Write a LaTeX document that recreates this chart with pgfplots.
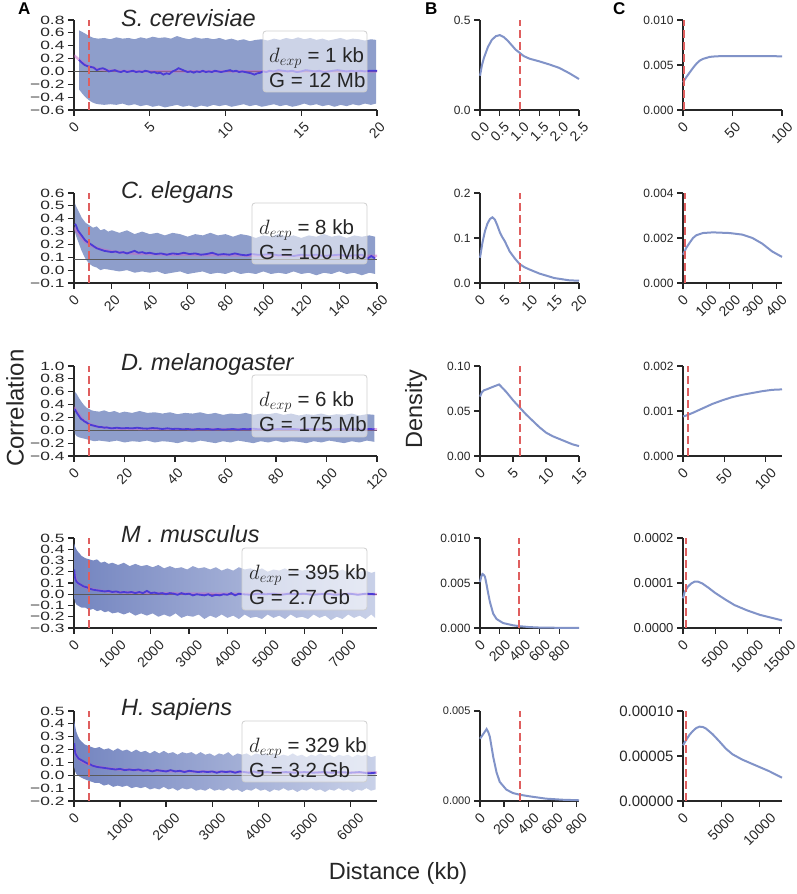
\documentclass[border=0pt]{standalone}
\usepackage{pgfplots}
\pgfplotsset{compat=1.18}
\usepackage{fontspec}
\setmainfont{Liberation Sans}
\definecolor{spine}{HTML}{262626}
\definecolor{band}{HTML}{8E9ECB}
\definecolor{bandL}{HTML}{7485C0}
\definecolor{bandM}{HTML}{8F9ECB}
\definecolor{bandR}{HTML}{C9D1E8}
\definecolor{meanc}{HTML}{4B3BD6}
\definecolor{fitc}{HTML}{C864C8}
\definecolor{redd}{HTML}{DF5F5F}
\definecolor{dens}{HTML}{8193C8}
\definecolor{hline}{HTML}{5A5A5A}
\definecolor{legb}{HTML}{CFCFCF}
\newcommand{\tk}{\fontsize{12}{12}\selectfont}
\newcommand{\tx}{\fontsize{14}{14}\selectfont}
\newcommand{\R}[1]{\rotatebox{45}{#1}}
\newcommand{\W}[1]{\scalebox{1.45}[1]{#1}}
\pgfplotsset{
 base/.style={scale only axis, anchor=south west, axis x line*=bottom, axis y line*=left,
   axis line style={-, line width=1.5pt, spine},
   tick align=outside, major tick length=6pt,
   every tick/.style={line width=1.2pt, spine},
   scaled x ticks=false, scaled y ticks=false,
   tick label style={text=spine},
   yticklabel style={font=\tk},
   xticklabel style={font=\tx, yshift=-2pt},
   height=90pt},
 colA/.style={base, width=303pt},
 colB/.style={base, width=99pt, clip=false},
 colC/.style={base, width=99pt, clip=false},
 rdash/.style={redd, line width=2pt, dash pattern=on 8pt off 4pt},
 dline/.style={dens, line width=2pt},
 hl/.style={hline, line width=1pt},
 fitl/.style={fitc, opacity=0.5, line width=2.5pt},
 meanl/.style={meanc, line width=1.8pt},
}
\tikzset{legbox/.style={draw=legb, line width=0.8pt, fill=white, fill opacity=0.55, rounded corners=3pt},
 legt/.style={anchor=base west, font=\fontsize{20.5}{22}\selectfont, text=spine, inner sep=0pt},
 ttl/.style={anchor=base west, font=\fontsize{23.5}{24}\selectfont\itshape, text=spine, inner sep=0pt}}
\begin{document}
\begin{tikzpicture}
\path[use as bounding box] (0pt,0pt) rectangle (797pt,894pt);
%%%%%%%%%%%%%%%% ROW 1
\begin{axis}[colA, at={(74pt,784pt)}, xmin=0, xmax=20, ymin=-0.6, ymax=0.8,
 xtick={0,5,10,15,20}, xticklabels={\R{0},\R{5},\R{10},\R{15},\R{20}},
 ytick={-0.6,-0.4,-0.2,0,0.2,0.4,0.6,0.8}, yticklabels={\W{−0.6},\W{−0.4},\W{−0.2},\W{0.0},\W{0.2},\W{0.4},\W{0.6},\W{0.8}}]
\addplot[draw=none, fill=band] coordinates {(0.33,0.64)(0.5,0.62)(0.8,0.58)(1.0,0.55)(1.3,0.52)(1.6,0.51)(2.0,0.52)(2.4,0.50)(2.8,0.53)(3.2,0.51)(3.6,0.52)(4.0,0.50)(4.4,0.53)(4.8,0.51)(5.2,0.54)(5.6,0.52)(6.0,0.53)(6.4,0.51)(6.8,0.55)(7.2,0.52)(7.6,0.50)(8.0,0.53)(8.4,0.51)(8.8,0.52)(9.2,0.50)(9.6,0.52)(10.0,0.49)(10.4,0.51)(10.8,0.48)(11.2,0.50)(11.6,0.47)(12.0,0.49)(12.4,0.50)(12.8,0.48)(13.2,0.51)(13.6,0.49)(14.0,0.52)(14.4,0.50)(14.8,0.53)(15.2,0.50)(15.6,0.52)(16.0,0.49)(16.4,0.51)(16.8,0.48)(17.2,0.50)(17.6,0.52)(18.0,0.49)(18.4,0.51)(18.8,0.50)(19.2,0.48)(19.6,0.50)(19.95,0.49)
 (19.95,-0.50)(19.6,-0.52)(19.2,-0.50)(18.8,-0.53)(18.4,-0.51)(18.0,-0.54)(17.6,-0.52)(17.2,-0.55)(16.8,-0.52)(16.4,-0.54)(16.0,-0.51)(15.6,-0.53)(15.2,-0.50)(14.8,-0.53)(14.4,-0.55)(14.0,-0.52)(13.6,-0.54)(13.2,-0.51)(12.8,-0.53)(12.4,-0.55)(12.0,-0.52)(11.6,-0.54)(11.2,-0.51)(10.8,-0.53)(10.4,-0.55)(10.0,-0.52)(9.6,-0.54)(9.2,-0.52)(8.8,-0.55)(8.4,-0.53)(8.0,-0.56)(7.6,-0.53)(7.2,-0.55)(6.8,-0.52)(6.4,-0.54)(6.0,-0.56)(5.6,-0.53)(5.2,-0.55)(4.8,-0.52)(4.4,-0.54)(4.0,-0.51)(3.6,-0.53)(3.2,-0.50)(2.8,-0.52)(2.4,-0.51)(2.0,-0.52)(1.6,-0.51)(1.4,-0.50)(1.2,-0.48)(1.0,-0.45)(0.8,-0.41)(0.6,-0.36)(0.33,-0.28)} -- cycle;
\addplot[hl] coordinates {(0,0)(20,0)};
\addplot[fitl] coordinates {(0,0.25)(0.25,0.2)(0.5,0.15)(0.75,0.11)(1,0.08)(1.5,0.04)(2,0.02)(3,0.005)(5,0)(20,0)};
\addplot[meanl] coordinates {(0.33,0.18)(0.5,0.14)(0.7,0.10)(0.9,0.08)(1.1,0.07)(1.3,0.06)(1.5,0.02)(1.7,0.04)(1.9,0.05)(2.1,0.03)(2.3,0.00)(2.5,0.01)(2.7,0.02)(2.9,0.00)(3.1,-0.01)(3.3,0.01)(3.5,-0.01)(3.7,0.00)(3.9,0.01)(4.1,-0.01)(4.3,0.00)(4.5,-0.01)(4.7,0.01)(4.9,0.00)(5.1,-0.02)(5.3,-0.01)(5.5,-0.03)(5.7,-0.02)(5.9,-0.05)(6.1,-0.03)(6.3,-0.04)(6.5,0.00)(6.7,0.02)(6.9,0.05)(7.1,0.03)(7.3,0.01)(7.5,-0.01)(7.7,0.00)(7.9,-0.02)(8.1,0.00)(8.3,-0.01)(8.5,0.01)(8.7,-0.01)(8.9,0.00)(9.1,-0.01)(9.3,0.01)(9.5,0.00)(9.7,-0.01)(9.9,0.00)(10.1,0.01)(10.3,0.02)(10.5,0.00)(10.7,0.01)(10.9,-0.01)(11.1,0.00)(11.3,-0.01)(11.5,-0.02)(11.7,-0.03)(11.9,-0.05)(12.1,-0.03)(12.3,-0.02)(12.5,0.00)(12.7,-0.01)(12.9,0.01)(13.2,0.00)(13.5,0.02)(13.8,0.01)(14.1,0.00)(14.4,0.01)(14.7,-0.01)(15.0,0.00)(15.3,0.02)(15.6,0.01)(15.9,0.00)(16.2,0.01)(16.5,-0.01)(16.8,0.00)(17.1,0.01)(17.4,0.02)(17.7,0.01)(18.0,0.00)(18.3,0.01)(18.6,0.00)(18.9,0.01)(19.2,0.00)(19.5,0.01)(19.8,0.01)(20,0.01)};
\addplot[rdash] coordinates {(1,-0.6)(1,0.8)};
\end{axis}
\begin{axis}[colB, at={(480pt,784pt)}, xmin=0, xmax=2.5, ymin=0, ymax=0.5,
 xtick={0,0.5,1,1.5,2,2.5}, xticklabels={\R{0.0},\R{0.5},\R{1.0},\R{1.5},\R{2.0},\R{2.5}},
 ytick={0,0.5}, yticklabels={0.0,0.5}]
\addplot[dline] coordinates {(0,0.19)(0.05,0.25)(0.1,0.29)(0.2,0.35)(0.3,0.39)(0.4,0.41)(0.5,0.416)(0.6,0.405)(0.7,0.385)(0.8,0.36)(0.9,0.335)(1.0,0.318)(1.1,0.30)(1.25,0.285)(1.5,0.27)(1.75,0.253)(2.0,0.234)(2.25,0.205)(2.5,0.172)};
\addplot[rdash] coordinates {(1,0)(1,0.5)};
\end{axis}
\begin{axis}[colC, at={(683pt,784pt)}, xmin=0, xmax=100, ymin=0, ymax=0.01,
 xtick={0,50,100}, xticklabels={\R{0},\R{50},\R{100}},
 ytick={0,0.005,0.01}, yticklabels={0.000,0.005,0.010}]
\addplot[dline] coordinates {(0,0.00306)(3.4,0.00366)(6.8,0.00418)(10,0.00466)(13.6,0.00515)(17,0.00549)(20,0.00567)(27,0.0059)(34,0.00597)(50,0.00598)(100,0.00597)};
\addplot[rdash] coordinates {(1,0)(1,0.01)};
\end{axis}
%%%%%%%%%%%%%%%% ROW 2
\begin{axis}[colA, at={(74pt,611pt)}, xmin=0, xmax=160, ymin=-0.1, ymax=0.6,
 xtick={0,20,...,160}, xticklabels={\R{0},\R{20},\R{40},\R{60},\R{80},\R{100},\R{120},\R{140},\R{160}},
 ytick={-0.1,0,0.1,0.2,0.3,0.4,0.5,0.6}, yticklabels={\W{−0.1},\W{0.0},\W{0.1},\W{0.2},\W{0.3},\W{0.4},\W{0.5},\W{0.6}}]
\addplot[draw=none, fill=band] coordinates {(0.5,0.52)(1,0.50)(2,0.47)(3,0.44)(4,0.41)(5,0.39)(6,0.37)(7,0.36)(8,0.35)(10,0.33)(12,0.34)(14,0.31)(16,0.32)(18,0.30)(20,0.31)(24,0.29)(28,0.31)(32,0.28)(36,0.30)(40,0.28)(44,0.29)(48,0.27)(52,0.29)(56,0.28)(60,0.26)(64,0.28)(68,0.27)(72,0.29)(76,0.27)(80,0.28)(84,0.26)(88,0.28)(92,0.27)(96,0.25)(100,0.27)(104,0.26)(108,0.28)(112,0.26)(116,0.27)(120,0.25)(124,0.27)(128,0.26)(132,0.28)(136,0.26)(140,0.27)(144,0.25)(148,0.27)(152,0.26)(156,0.27)(159,0.26)
 (159,-0.03)(156,-0.02)(152,-0.04)(148,-0.02)(144,-0.03)(140,-0.01)(136,-0.03)(132,-0.02)(128,-0.04)(124,-0.02)(120,-0.03)(116,-0.01)(112,-0.03)(108,-0.02)(104,-0.03)(100,-0.01)(96,-0.03)(92,-0.02)(88,-0.03)(84,-0.01)(80,-0.03)(76,-0.02)(72,-0.03)(68,-0.01)(64,-0.02)(60,-0.03)(56,-0.01)(52,-0.02)(48,-0.03)(44,-0.01)(40,-0.02)(36,-0.01)(32,-0.02)(28,0.00)(24,-0.01)(20,0.00)(16,0.01)(14,0.00)(12,0.02)(10,0.03)(8,0.05)(7,0.07)(6,0.09)(5,0.12)(4,0.15)(3,0.19)(2,0.23)(1,0.27)(0.5,0.30)} -- cycle;
\addplot[hl] coordinates {(0,0.08)(160,0.08)};
\addplot[fitl] coordinates {(0,0.33)(2,0.29)(4,0.25)(6,0.22)(8,0.2)(10,0.185)(15,0.16)(20,0.145)(30,0.13)(50,0.12)(80,0.115)(120,0.11)(160,0.11)};
\addplot[meanl] coordinates {(0.5,0.36)(1,0.35)(1.5,0.33)(2,0.31)(3,0.29)(4,0.27)(5,0.25)(6,0.23)(7,0.22)(8,0.21)(9,0.20)(10,0.19)(11,0.18)(12,0.17)(13,0.165)(14,0.16)(16,0.15)(18,0.145)(20,0.14)(22,0.145)(24,0.135)(26,0.14)(28,0.13)(30,0.14)(32,0.15)(34,0.135)(36,0.14)(38,0.13)(40,0.135)(43,0.125)(46,0.13)(49,0.12)(52,0.13)(55,0.125)(58,0.135)(61,0.125)(64,0.13)(67,0.12)(70,0.125)(73,0.135)(76,0.12)(79,0.125)(82,0.12)(85,0.13)(88,0.12)(91,0.115)(94,0.125)(97,0.12)(100,0.12)(104,0.125)(108,0.115)(112,0.12)(116,0.11)(120,0.12)(124,0.115)(128,0.12)(132,0.11)(136,0.115)(140,0.12)(144,0.11)(148,0.115)(152,0.12)(155,0.09)(157,0.11)(159,0.09)};
\addplot[rdash] coordinates {(8,-0.1)(8,0.6)};
\end{axis}
\begin{axis}[colB, at={(480pt,611pt)}, xmin=0, xmax=20, ymin=0, ymax=0.2,
 xtick={0,5,10,15,20}, xticklabels={\R{0},\R{5},\R{10},\R{15},\R{20}},
 ytick={0,0.1,0.2}, yticklabels={0.0,0.1,0.2}]
\addplot[dline] coordinates {(0,0.056)(0.5,0.09)(1,0.115)(1.5,0.132)(2,0.142)(2.5,0.146)(3,0.141)(3.5,0.128)(4,0.113)(4.5,0.102)(5,0.093)(6,0.07)(7,0.055)(8,0.042)(9,0.035)(10,0.030)(12,0.021)(15,0.011)(18,0.006)(20,0.005)};
\addplot[rdash] coordinates {(8,0)(8,0.2)};
\end{axis}
\begin{axis}[colC, at={(683pt,611pt)}, xmin=0, xmax=425, ymin=0, ymax=0.004,
 xtick={0,100,200,300,400}, xticklabels={\R{0},\R{100},\R{200},\R{300},\R{400}},
 ytick={0,0.002,0.004}, yticklabels={0.000,0.002,0.004}]
\addplot[dline] coordinates {(0,0.00126)(14,0.00156)(28,0.00178)(43,0.002)(57,0.00212)(85,0.00222)(128,0.00225)(200,0.00222)(255,0.00215)(298,0.002)(340,0.00175)(383,0.0014)(425,0.00116)};
\addplot[rdash] coordinates {(8,0)(8,0.004)};
\end{axis}
%%%%%%%%%%%%%%%% ROW 3
\begin{axis}[colA, at={(74pt,438pt)}, xmin=0, xmax=120, ymin=-0.4, ymax=1.0,
 xtick={0,20,...,120}, xticklabels={\R{0},\R{20},\R{40},\R{60},\R{80},\R{100},\R{120}},
 ytick={-0.4,-0.2,0,0.2,0.4,0.6,0.8,1.0}, yticklabels={\W{−0.4},\W{−0.2},\W{0.0},\W{0.2},\W{0.4},\W{0.6},\W{0.8},\W{1.0}}]
\addplot[draw=none, fill=band] coordinates {(0.3,0.60)(1,0.57)(2,0.50)(3,0.44)(4,0.39)(5,0.35)(6,0.33)(7,0.31)(8,0.30)(10,0.29)(12,0.31)(14,0.28)(16,0.30)(18,0.27)(20,0.29)(23,0.27)(26,0.30)(29,0.27)(32,0.28)(35,0.26)(38,0.28)(41,0.25)(44,0.27)(47,0.26)(50,0.28)(53,0.25)(56,0.27)(59,0.24)(62,0.26)(65,0.25)(68,0.27)(71,0.24)(74,0.26)(77,0.25)(80,0.27)(83,0.24)(86,0.26)(89,0.23)(92,0.25)(95,0.24)(98,0.26)(101,0.23)(104,0.25)(107,0.24)(110,0.26)(113,0.23)(116,0.25)(119,0.24)
 (119,-0.18)(116,-0.16)(113,-0.19)(110,-0.17)(107,-0.20)(104,-0.18)(101,-0.16)(98,-0.19)(95,-0.17)(92,-0.20)(89,-0.18)(86,-0.17)(83,-0.19)(80,-0.16)(77,-0.19)(74,-0.17)(71,-0.20)(68,-0.18)(65,-0.16)(62,-0.19)(59,-0.17)(56,-0.20)(53,-0.18)(50,-0.16)(47,-0.19)(44,-0.17)(41,-0.20)(38,-0.18)(35,-0.17)(32,-0.19)(29,-0.16)(26,-0.18)(23,-0.17)(20,-0.19)(17,-0.16)(14,-0.18)(12,-0.17)(10,-0.16)(8,-0.17)(6,-0.15)(5,-0.14)(4,-0.13)(3,-0.12)(2,-0.11)(1,-0.09)(0.3,-0.05)} -- cycle;
\addplot[hl] coordinates {(0,0)(120,0)};
\addplot[fitl] coordinates {(0,0.36)(1,0.3)(2,0.24)(3,0.19)(4,0.15)(6,0.1)(8,0.07)(10,0.05)(15,0.03)(25,0.02)(50,0.015)(120,0.015)};
\addplot[meanl] coordinates {(0.3,0.33)(0.7,0.30)(1,0.28)(1.5,0.25)(2,0.22)(2.5,0.19)(3,0.17)(3.5,0.16)(4,0.14)(5,0.12)(6,0.09)(7,0.08)(8,0.07)(9,0.06)(10,0.05)(11,0.05)(12,0.04)(13,0.045)(14,0.035)(15,0.03)(17,0.04)(19,0.03)(21,0.035)(23,0.03)(25,0.04)(27,0.03)(29,0.025)(31,0.035)(33,0.03)(35,0.02)(37,0.03)(39,0.02)(41,0.025)(43,0.015)(45,0.02)(47,0.01)(49,0.02)(51,0.015)(53,0.02)(55,0.01)(57,0.02)(59,0.01)(61,0.015)(63,0.02)(65,0.01)(67,0.02)(69,0.015)(71,0.025)(73,0.015)(75,0.02)(78,0.01)(81,0.02)(84,0.015)(87,0.02)(90,0.01)(93,0.02)(96,0.015)(99,0.02)(102,0.01)(105,0.02)(108,0.015)(111,0.02)(114,0.01)(117,0.02)(119,0.015)};
\addplot[rdash] coordinates {(6,-0.4)(6,1.0)};
\end{axis}
\begin{axis}[colB, at={(480pt,438pt)}, xmin=0, xmax=15, ymin=0, ymax=0.1,
 xtick={0,5,10,15}, xticklabels={\R{0},\R{5},\R{10},\R{15}},
 ytick={0,0.05,0.1}, yticklabels={0.00,0.05,0.10}]
\addplot[dline] coordinates {(0,0.066)(0.3,0.071)(0.6,0.073)(1,0.074)(2,0.077)(2.9,0.0795)(4,0.071)(5,0.062)(6,0.054)(7,0.046)(8,0.039)(9,0.032)(10,0.026)(11,0.022)(12,0.019)(13,0.016)(14,0.013)(15,0.011)};
\addplot[rdash] coordinates {(6,0)(6,0.1)};
\end{axis}
\begin{axis}[colC, at={(683pt,438pt)}, xmin=0, xmax=120, ymin=0, ymax=0.002,
 xtick={0,50,100}, xticklabels={\R{0},\R{50},\R{100}},
 ytick={0,0.001,0.002}, yticklabels={0.000,0.001,0.002}]
\addplot[dline] coordinates {(0,0.00088)(4,0.0009)(12,0.00096)(24,0.00106)(36,0.00116)(48,0.00124)(60,0.00131)(72,0.00136)(84,0.0014)(96,0.00144)(108,0.00147)(120,0.00148)};
\addplot[rdash] coordinates {(6,0)(6,0.002)};
\end{axis}
%%%%%%%%%%%%%%%% ROW 4
\begin{axis}[colA, at={(74pt,266pt)}, xmin=0, xmax=7900, ymin=-0.3, ymax=0.5,
 xtick={0,1000,...,7000}, xticklabels={\R{0},\R{1000},\R{2000},\R{3000},\R{4000},\R{5000},\R{6000},\R{7000}},
 ytick={-0.3,-0.2,-0.1,0,0.1,0.2,0.3,0.4,0.5}, yticklabels={\W{−0.3},\W{−0.2},\W{−0.1},\W{0.0},\W{0.1},\W{0.2},\W{0.3},\W{0.4},\W{0.5}}]
\addplot[draw=none, left color=bandL, middle color=bandM, right color=bandR] coordinates {(5,0.45)(30,0.42)(60,0.40)(100,0.38)(150,0.36)(200,0.34)(300,0.32)(400,0.31)(500,0.30)(600,0.31)(700,0.28)(800,0.29)(900,0.27)(1000,0.28)(1150,0.26)(1300,0.28)(1450,0.25)(1600,0.27)(1750,0.25)(1900,0.26)(2050,0.24)(2200,0.26)(2350,0.23)(2500,0.25)(2650,0.23)(2800,0.24)(2950,0.22)(3100,0.25)(3250,0.23)(3400,0.24)(3550,0.22)(3700,0.24)(3850,0.21)(4000,0.23)(4150,0.21)(4300,0.24)(4450,0.22)(4600,0.23)(4750,0.21)(4900,0.23)(5050,0.20)(5200,0.22)(5350,0.21)(5500,0.23)(5650,0.20)(5800,0.22)(5950,0.21)(6100,0.22)(6250,0.20)(6400,0.22)(6550,0.19)(6700,0.21)(6850,0.20)(7000,0.22)(7150,0.19)(7300,0.21)(7450,0.20)(7600,0.21)(7750,0.19)(7850,0.20)
 (7850,-0.21)(7750,-0.18)(7600,-0.22)(7450,-0.19)(7300,-0.21)(7150,-0.18)(7000,-0.22)(6850,-0.20)(6700,-0.23)(6550,-0.19)(6400,-0.21)(6250,-0.18)(6100,-0.22)(5950,-0.20)(5800,-0.21)(5650,-0.18)(5500,-0.22)(5350,-0.19)(5200,-0.21)(5050,-0.18)(4900,-0.22)(4750,-0.20)(4600,-0.21)(4450,-0.18)(4300,-0.22)(4150,-0.19)(4000,-0.21)(3850,-0.18)(3700,-0.21)(3550,-0.19)(3400,-0.22)(3250,-0.18)(3100,-0.20)(2950,-0.19)(2800,-0.21)(2650,-0.17)(2500,-0.20)(2350,-0.18)(2200,-0.20)(2050,-0.17)(1900,-0.19)(1750,-0.17)(1600,-0.19)(1450,-0.16)(1300,-0.18)(1150,-0.16)(1000,-0.17)(900,-0.15)(800,-0.16)(700,-0.14)(600,-0.15)(500,-0.13)(400,-0.14)(300,-0.12)(200,-0.12)(150,-0.11)(100,-0.10)(60,-0.09)(30,-0.07)(5,-0.03)} -- cycle;
\addplot[hl] coordinates {(0,0)(7900,0)};
\addplot[fitl] coordinates {(0,0.2)(50,0.13)(100,0.1)(200,0.075)(400,0.05)(700,0.03)(1000,0.02)(2000,0.01)(3000,0.005)(5000,0.003)(7900,0.002)};
\addplot[meanl] coordinates {(5,0.22)(20,0.16)(40,0.13)(70,0.11)(100,0.10)(150,0.09)(200,0.08)(250,0.07)(300,0.065)(350,0.06)(400,0.05)(450,0.045)(500,0.04)(600,0.035)(700,0.03)(800,0.025)(900,0.03)(1000,0.02)(1100,0.025)(1200,0.015)(1300,0.02)(1400,0.015)(1500,0.02)(1600,0.01)(1700,0.02)(1800,0.01)(1900,0.03)(2000,0.01)(2100,0.015)(2200,0.005)(2300,0.01)(2400,0.0)(2500,0.01)(2600,0.005)(2700,-0.005)(2800,0.01)(2900,0.0)(3000,0.005)(3100,-0.01)(3200,0.0)(3300,-0.005)(3400,-0.01)(3500,0.0)(3600,-0.015)(3700,-0.005)(3800,-0.01)(3900,0.0)(4000,-0.005)(4100,0.01)(4200,-0.01)(4300,0.005)(4400,0.0)(4600,-0.005)(4800,0.005)(5000,0.0)(5200,0.005)(5400,-0.005)(5600,0.005)(5800,0.0)(6000,0.005)(6200,-0.005)(6400,0.0)(6600,0.005)(6800,-0.005)(7000,0.0)(7200,0.005)(7400,-0.005)(7600,0.005)(7850,0.0)};
\addplot[rdash] coordinates {(395,-0.3)(395,0.5)};
\end{axis}
\begin{axis}[colB, at={(480pt,266pt)}, xmin=0, xmax=1000, ymin=0, ymax=0.01,
 xtick={0,200,400,600,800}, xticklabels={\R{0},\R{200},\R{400},\R{600},\R{800}},
 ytick={0,0.005,0.01}, yticklabels={0.000,0.005,0.010}]
\addplot[dline] coordinates {(0,0.0051)(12,0.0057)(25,0.006)(38,0.0059)(50,0.0057)(65,0.0049)(80,0.004)(100,0.0029)(133,0.0016)(167,0.001)(233,0.00055)(333,0.0003)(400,0.0002)(500,0.0001)(600,0.00005)(800,0.00002)(1000,0.00001)};
\addplot[rdash] coordinates {(395,0)(395,0.01)};
\end{axis}
\begin{axis}[colC, at={(683pt,266pt)}, xmin=0, xmax=15400, ymin=0, ymax=0.0002,
 xtick={0,5000,10000,15000}, xticklabels={\R{0},\R{5000},\R{10000},\R{15000}},
 ytick={0,0.0001,0.0002}, yticklabels={0.0000,0.0001,0.0002}, yticklabel style={font=\fontsize{13}{13}\selectfont}]
\addplot[dline] coordinates {(0,0.000066)(257,0.00008)(770,0.000092)(1284,0.000099)(1800,0.000103)(2311,0.000103)(3000,0.000099)(4000,0.000089)(5000,0.000078)(6500,0.000064)(8000,0.000051)(10000,0.000039)(12000,0.000029)(14000,0.000022)(15400,0.000017)};
\addplot[rdash] coordinates {(395,0)(395,0.0002)};
\end{axis}
%%%%%%%%%%%%%%%% ROW 5
\begin{axis}[colA, at={(74pt,93pt)}, xmin=0, xmax=6580, ymin=-0.2, ymax=0.5,
 xtick={0,1000,...,6000}, xticklabels={\R{0},\R{1000},\R{2000},\R{3000},\R{4000},\R{5000},\R{6000}},
 ytick={-0.2,-0.1,0,0.1,0.2,0.3,0.4,0.5}, yticklabels={\W{−0.2},\W{−0.1},\W{0.0},\W{0.1},\W{0.2},\W{0.3},\W{0.4},\W{0.5}}]
\addplot[draw=none, left color=bandL, middle color=bandM, right color=bandR] coordinates {(5,0.42)(25,0.38)(50,0.34)(80,0.31)(120,0.28)(170,0.26)(230,0.24)(300,0.23)(380,0.22)(460,0.21)(550,0.22)(650,0.20)(750,0.21)(850,0.19)(950,0.21)(1050,0.19)(1150,0.20)(1250,0.18)(1350,0.20)(1450,0.18)(1550,0.19)(1650,0.17)(1750,0.19)(1850,0.17)(1950,0.19)(2050,0.17)(2150,0.18)(2250,0.16)(2350,0.18)(2450,0.17)(2550,0.18)(2650,0.16)(2750,0.18)(2850,0.16)(2950,0.17)(3050,0.15)(3150,0.17)(3250,0.16)(3350,0.18)(3450,0.15)(3550,0.17)(3650,0.16)(3750,0.17)(3850,0.15)(3950,0.17)(4050,0.16)(4150,0.17)(4250,0.15)(4350,0.17)(4450,0.15)(4550,0.16)(4650,0.15)(4750,0.17)(4850,0.15)(4950,0.16)(5050,0.14)(5150,0.16)(5250,0.15)(5350,0.17)(5450,0.15)(5550,0.16)(5650,0.14)(5750,0.16)(5850,0.15)(5950,0.16)(6050,0.14)(6150,0.16)(6250,0.15)(6350,0.16)(6450,0.14)(6550,0.15)
 (6550,-0.11)(6450,-0.12)(6350,-0.10)(6250,-0.12)(6150,-0.11)(6050,-0.13)(5950,-0.11)(5850,-0.12)(5750,-0.10)(5650,-0.12)(5550,-0.11)(5450,-0.13)(5350,-0.11)(5250,-0.12)(5150,-0.10)(5050,-0.12)(4950,-0.11)(4850,-0.13)(4750,-0.11)(4650,-0.12)(4550,-0.10)(4450,-0.12)(4350,-0.11)(4250,-0.13)(4150,-0.11)(4050,-0.12)(3950,-0.10)(3850,-0.12)(3750,-0.11)(3650,-0.13)(3550,-0.11)(3450,-0.12)(3350,-0.10)(3250,-0.12)(3150,-0.11)(3050,-0.12)(2950,-0.10)(2850,-0.12)(2750,-0.11)(2650,-0.12)(2550,-0.10)(2450,-0.11)(2350,-0.10)(2250,-0.12)(2150,-0.10)(2050,-0.11)(1950,-0.09)(1850,-0.11)(1750,-0.10)(1650,-0.11)(1550,-0.09)(1450,-0.10)(1350,-0.09)(1250,-0.10)(1150,-0.08)(1050,-0.09)(950,-0.08)(850,-0.09)(750,-0.07)(650,-0.08)(550,-0.06)(460,-0.06)(380,-0.05)(300,-0.04)(230,-0.03)(170,-0.02)(120,-0.01)(80,0.0)(50,0.01)(25,0.03)(5,0.06)} -- cycle;
\addplot[hl] coordinates {(0,0)(6580,0)};
\addplot[fitl] coordinates {(0,0.22)(50,0.15)(100,0.13)(200,0.1)(400,0.075)(700,0.055)(1000,0.045)(2000,0.033)(3000,0.027)(4000,0.024)(5000,0.022)(6580,0.02)};
\addplot[meanl] coordinates {(5,0.25)(15,0.2)(30,0.17)(60,0.15)(100,0.13)(150,0.12)(200,0.11)(250,0.10)(300,0.09)(350,0.085)(400,0.075)(450,0.07)(500,0.065)(600,0.06)(700,0.055)(800,0.05)(900,0.045)(1000,0.05)(1100,0.04)(1200,0.045)(1300,0.04)(1400,0.045)(1500,0.035)(1600,0.04)(1700,0.03)(1800,0.04)(1900,0.035)(2000,0.03)(2100,0.04)(2200,0.03)(2300,0.035)(2400,0.025)(2500,0.035)(2600,0.03)(2700,0.025)(2800,0.03)(2900,0.025)(3000,0.03)(3100,0.02)(3200,0.03)(3300,0.025)(3400,0.03)(3500,0.02)(3600,0.03)(3700,0.025)(3800,0.02)(3900,0.03)(4000,0.02)(4200,0.025)(4400,0.02)(4600,0.025)(4800,0.02)(5000,0.025)(5200,0.02)(5400,0.025)(5600,0.02)(5800,0.025)(6000,0.02)(6200,0.025)(6400,0.015)(6550,0.02)};
\addplot[rdash] coordinates {(329,-0.2)(329,0.5)};
\end{axis}
\begin{axis}[colB, at={(480pt,93pt)}, xmin=0, xmax=822, ymin=0, ymax=0.005,
 xtick={0,200,400,600,800}, xticklabels={\R{0},\R{200},\R{400},\R{600},\R{800}},
 ytick={0,0.005}, yticklabels={0.000,0.005}, yticklabel style={font=\fontsize{11}{11}\selectfont}]
\addplot[dline] coordinates {(0,0.00346)(25,0.0037)(55,0.004)(70,0.0038)(82,0.00356)(110,0.00244)(137,0.0016)(164,0.00106)(219,0.00063)(274,0.00044)(329,0.00035)(411,0.00026)(548,0.00013)(685,0.00007)(822,0.00004)};
\addplot[rdash] coordinates {(329,0)(329,0.005)};
\end{axis}
\begin{axis}[colC, at={(683pt,93pt)}, xmin=0, xmax=12930, ymin=0, ymax=0.0001,
 xtick={0,5000,10000}, xticklabels={\R{0},\R{5000},\R{10000}},
 ytick={0,0.00005,0.0001}, yticklabels={0.00000,0.00005,0.00010}, yticklabel style={font=\fontsize{15}{15}\selectfont}]
\addplot[dline] coordinates {(0,0.0000619)(431,0.0000681)(862,0.0000737)(1293,0.0000778)(1724,0.0000811)(2155,0.0000826)(2586,0.0000822)(3017,0.0000804)(3879,0.0000741)(4741,0.0000663)(5603,0.0000581)(6466,0.0000519)(7759,0.0000459)(9483,0.0000396)(11207,0.0000333)(12930,0.0000259)};
\addplot[rdash] coordinates {(329,0)(329,0.0001)};
\end{axis}
%%%%%%%%%%%%%%%% legend boxes
\draw[legbox] (263pt,863pt) rectangle (367pt,802pt);
\node[legt] at (269pt,831.5pt) {$d_{exp}$ = 1 kb};
\node[legt] at (269pt,806.5pt) {G = 12 Mb};
\draw[legbox] (252pt,691pt) rectangle (367pt,630pt);
\node[legt] at (259pt,659.5pt) {$d_{exp}$ = 8 kb};
\node[legt] at (259pt,634.5pt) {G = 100 Mb};
\draw[legbox] (252pt,519pt) rectangle (367pt,457pt);
\node[legt] at (259pt,487.5pt) {$d_{exp}$ = 6 kb};
\node[legt] at (259pt,462.5pt) {G = 175 Mb};
\draw[legbox] (242pt,346pt) rectangle (367pt,284pt);
\node[legt] at (249pt,314.5pt) {$d_{exp}$ = 395 kb};
\node[legt] at (249pt,289.5pt) {G = 2.7 Gb};
\draw[legbox] (242pt,173pt) rectangle (367pt,112pt);
\node[legt] at (249pt,141.5pt) {$d_{exp}$ = 329 kb};
\node[legt] at (249pt,116.5pt) {G = 3.2 Gb};
%%%%%%%%%%%%%%%% titles and labels
\node[ttl] at (121pt,867pt) {S. cerevisiae};
\node[ttl] at (121pt,695pt) {C. elegans};
\node[ttl] at (121pt,523pt) {D. melanogaster};
\node[ttl] at (121pt,351pt) {M . musculus};
\node[ttl] at (121pt,178pt) {H. sapiens};
\node[anchor=base west, font=\fontsize{17}{17}\selectfont\bfseries, inner sep=0pt] at (18pt,879pt) {A};
\node[anchor=base west, font=\fontsize{17}{17}\selectfont\bfseries, inner sep=0pt] at (425pt,879pt) {B};
\node[anchor=base west, font=\fontsize{17}{17}\selectfont\bfseries, inner sep=0pt] at (613pt,879pt) {C};
\node[rotate=90, font=\fontsize{24}{24}\selectfont, text=spine, inner sep=0pt] at (15pt,486pt) {Correlation};
\node[rotate=90, font=\fontsize{23.5}{24}\selectfont, text=spine, inner sep=0pt] at (416pt,485pt) {Density};
\node[anchor=base, font=\fontsize{23.5}{24}\selectfont, text=spine, inner sep=0pt] at (398pt,14pt) {Distance (kb)};
\end{tikzpicture}
\end{document}
